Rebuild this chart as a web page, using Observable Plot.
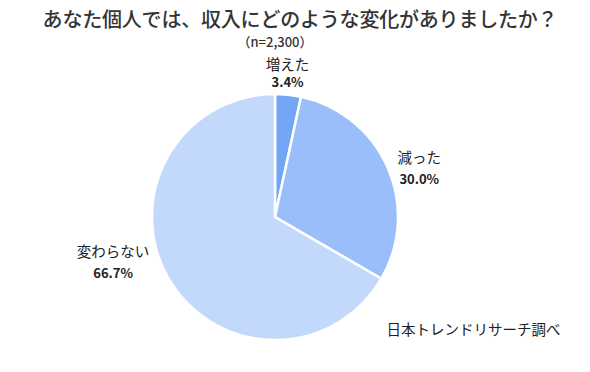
<!DOCTYPE html>
<html><head><meta charset="utf-8">
<script src="https://cdn.jsdelivr.net/npm/d3@7"></script>
<script src="https://cdn.jsdelivr.net/npm/@observablehq/plot@0.6"></script>
<style>
body{margin:0;background:#fff;font-family:"Noto Sans CJK JP","Noto Sans",sans-serif;color:#404040;}
#wrap{width:590px;height:372px;position:relative;overflow:hidden;}
#title{position:absolute;left:0;width:600px;top:7px;text-align:center;font-size:20px;line-height:24px;color:#333;font-weight:500;letter-spacing:-0.2px;}
#sub{position:absolute;left:175px;width:200px;top:33px;text-align:center;font-size:13px;line-height:17px;color:#333;font-weight:500;}
#chart{position:absolute;left:0;top:52px;}
</style></head>
<body><div id="wrap">
<div id="title">あなた個人では、収入にどのような変化がありましたか？</div>
<div id="sub">（n=2,300）</div>
<div id="chart"></div>
</div>
<script>
const categories = ["増えた", "減った", "変わらない"];
const shares = [3.4, 30.0, 66.7];
const colors = ["#74a6f6", "#9abefa", "#c3d9fb"];
const caption = "日本トレンドリサーチ調べ";

const W = 590, H = 320;
const cx = 275, cy = 165, R = 123;

const arcs = d3.pie().sort(null).value(d => d)(shares);
const sliceData = categories.map((c, i) => ({
  category: c, share: shares[i], start: arcs[i].startAngle, end: arcs[i].endAngle,
  mid: (arcs[i].startAngle + arcs[i].endAngle) / 2
}));

function pieMark(index, scales) {
  const g = d3.create("svg:g");
  const ox = scales.x(cx), oy = scales.y(cy);
  const r = scales.x(cx + R) - ox;
  const arc = d3.arc().innerRadius(0).outerRadius(r);
  g.selectAll("path").data(sliceData).join("path")
    .attr("transform", `translate(${ox},${oy})`)
    .attr("d", d => arc({startAngle: d.start, endAngle: d.end}))
    .attr("fill", d => scales.color(d.category))
    .attr("stroke", "#fff").attr("stroke-width", 2.5).attr("stroke-linejoin", "miter");
  return g.node();
}

// label anchor just outside each slice's mid-angle, then nudged like the original
const lr = R + 9;
const nudges = {
  "増えた":   {dx: -2,  dyName: -21, dyPct: -3},
  "減った":   {dx: 23,  dyName: -6,  dyPct: 16},
  "変わらない": {dx: -48, dyName: -31, dyPct: -10}
};
const labels = sliceData.map(d => {
  const n = nudges[d.category];
  const x0 = cx + lr * Math.sin(d.mid), y0 = cy - lr * Math.cos(d.mid);
  return {...d, x: x0 + n.dx, yName: y0 + n.dyName, yPct: y0 + n.dyPct, pct: d.share.toFixed(1) + "%"};
});

const font = {fontFamily: "'Noto Sans CJK JP', sans-serif", fill: "#222"};

const chart = Plot.plot({
  width: W, height: H,
  margin: 0,
  x: {domain: [0, W], range: [0, W], axis: null},
  y: {domain: [0, H], range: [0, H], axis: null},
  color: {domain: categories, range: colors},
  marks: [
    pieMark,
    Plot.text(labels, {x: "x", y: "yName", text: "category", textAnchor: "middle", fontSize: 14.5, ...font}),
    Plot.text(labels, {x: "x", y: "yPct", text: "pct", textAnchor: "middle", fontSize: 13, fontWeight: "bold", ...font}),
    Plot.text([caption], {x: () => 386, y: () => 278, text: d => d, textAnchor: "start", fontSize: 14.5, ...font})
  ]
});
document.getElementById("chart").appendChild(chart);
</script>
</body></html>
